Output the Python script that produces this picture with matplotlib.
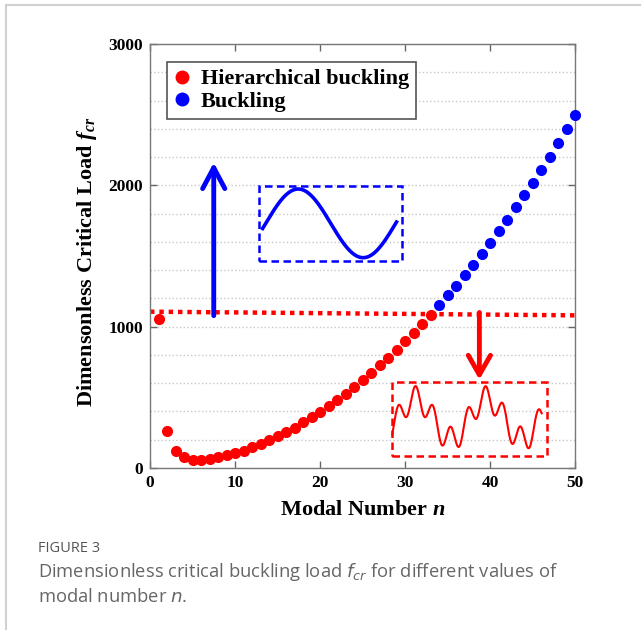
import numpy as np
import matplotlib
matplotlib.use('Agg')
import matplotlib.pyplot as plt
from matplotlib.ticker import MultipleLocator
from matplotlib.patches import Rectangle
from matplotlib.lines import Line2D

plt.rcParams['font.family'] = 'Liberation Serif'
plt.rcParams['axes.labelweight'] = 'bold'
plt.rcParams['mathtext.fontset'] = 'custom'
plt.rcParams['mathtext.it'] = 'Liberation Serif:italic'
plt.rcParams['mathtext.rm'] = 'Liberation Serif:bold'
plt.rcParams['mathtext.bfit'] = 'Liberation Serif:italic:bold'

# critical load vs modal number
n_hier = np.arange(1, 34)
load_hier = [1052, 262, 120, 76, 57, 54, 61, 76, 92, 106, 123, 146, 170, 196, 226,
             255, 285, 323, 358, 396, 439, 481, 526, 571, 620, 670, 727, 778, 837,
             897, 955, 1019, 1085]
n_buck = np.arange(34, 51)
load_buck = [1151, 1222, 1290, 1364, 1439, 1514, 1592, 1675, 1757, 1845, 1932,
             2019, 2111, 2203, 2298, 2397, 2496]

# hierarchical buckling threshold (dotted line)
cutoff_n = [0, 50]
cutoff_load = [1106, 1080]

x_ticks = [0, 10, 20, 30, 40, 50]
y_ticks = [0, 1000, 2000, 3000]

fig = plt.figure(figsize=(6.41, 6.30), dpi=100)
ax = fig.add_axes([150/641, 1 - 468/630, 425/641, 424/630])

ax.set_xlim(0, 50)
ax.set_ylim(0, 3000)
ax.set_xticks(x_ticks)
ax.set_yticks(y_ticks)
ax.yaxis.set_minor_locator(MultipleLocator(200))
ax.grid(axis='y', which='both', ls=':', color='#c8c8c8', lw=1)
ax.set_axisbelow(True)
ax.tick_params(which='major', direction='in', top=True, right=True, length=5,
               width=1, color='#666666', labelsize=12.5, pad=5)
ax.tick_params(which='minor', length=0)
for lbl in ax.get_xticklabels() + ax.get_yticklabels():
    lbl.set_fontweight('bold')
for sp in ax.spines.values():
    sp.set_color('#777777')
    sp.set_linewidth(1)

ax.plot(cutoff_n, cutoff_load, color='red', lw=3.2, ls=(0, (1, 1.1)), zorder=2)
ax.plot(n_hier, load_hier, 'o', color='red', ms=7, zorder=3, clip_on=False)
ax.plot(n_buck, load_buck, 'o', color='blue', ms=7, zorder=3, clip_on=False)

# arrows
ax.annotate('', xy=(7.5, 2161), xytext=(7.5, 1078),
            arrowprops=dict(arrowstyle='->,head_length=0.75,head_width=0.4',
                            lw=3.5, color='blue', mutation_scale=20,
                            shrinkA=0, shrinkB=0))
ax.annotate('', xy=(38.75, 625), xytext=(38.75, 1100),
            arrowprops=dict(arrowstyle='->,head_length=0.7,head_width=0.4',
                            lw=3.5, color='red', mutation_scale=20,
                            shrinkA=0, shrinkB=0))

# mode shape sketches
ax.add_patch(Rectangle((12.86, 1465), 29.6 - 12.86, 1996 - 1465, fill=False,
                       ec='blue', lw=1.8, ls=(0, (3, 1.8)), zorder=4))
t = np.linspace(0, 1, 300)
ax.plot(13.25 + t * (29.0 - 13.25), 1731 + 243 * np.sin(2 * np.pi * 1.03 * t - 0.15),
        color='blue', lw=2.6, zorder=4)

ax.add_patch(Rectangle((28.43, 85), 46.74 - 28.43, 611 - 85, fill=False,
                       ec='red', lw=1.8, ls=(0, (3, 1.8)), zorder=4))
w = 0.62 * np.sin(2 * np.pi * 2.1 * t - 0.487) + 0.38 * np.sin(2 * np.pi * 8.55 * t - 0.527)
w = w / np.abs(w).max()
ax.plot(28.5 + t * (46.08 - 28.5), 348 + 232 * w, color='red', lw=1.5, zorder=4)

handles = [Line2D([], [], marker='o', ls='none', color='red', ms=9),
           Line2D([], [], marker='o', ls='none', color='blue', ms=9)]
leg = ax.legend(handles, ['Hierarchical buckling', 'Buckling'],
                loc='upper left', bbox_to_anchor=(0.039, 0.957), borderaxespad=0,
                fancybox=False, framealpha=1, edgecolor='#555555',
                prop={'size': 16, 'weight': 'bold'}, handlelength=0.8,
                handletextpad=0.45, labelspacing=0.1, borderpad=0.3)
leg.get_frame().set_linewidth(1.2)

ax.set_xlabel(r'Modal Number $\mathbfit{n}$', fontsize=16)
ax.xaxis.set_label_coords(0.5, -(510 - 468) / 424, transform=ax.transAxes)
ax.xaxis.label.set_va('center')
ax.set_ylabel(r'Dimensonless Critical Load $\mathbfit{f}_{\mathbfit{cr}}$', fontsize=16)
ax.yaxis.set_label_coords(-(150 - 87) / 425, (468 - 262) / 424, transform=ax.transAxes)
ax.yaxis.label.set_va('center')

# page frame and caption
fig.add_artist(Line2D([6/641, 6/641], [0, 1 - 5/630], transform=fig.transFigure,
                      color='#d0d0d0', lw=1.5))
fig.add_artist(Line2D([6/641, 1], [1 - 5/630, 1 - 5/630], transform=fig.transFigure,
                      color='#d0d0d0', lw=1.5))
fig.text(38/641, 1 - 549/630, 'FIGURE 3', family='Open Sans',
         size=10.5, color='#555555', va='center')
fig.text(38/641, 1 - 572/630,
         'Dimensionless critical buckling load $f_{cr}$ for different values of',
         family='Open Sans', size=13.2, color='#666666',
         va='center', math_fontfamily='dejavusans')
fig.text(38/641, 1 - 597/630, 'modal number $n$.', family='Open Sans',
         size=13.2, color='#666666', va='center', math_fontfamily='dejavusans')

fig.savefig('out.png', dpi=100)
